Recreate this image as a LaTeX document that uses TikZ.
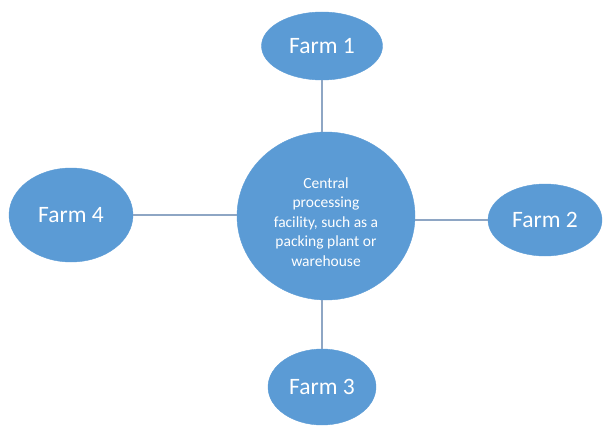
\documentclass[tikz,border=0pt]{standalone}
\usepackage{fontspec}
\setmainfont{Carlito}
\usetikzlibrary{shapes.geometric}
\definecolor{farmblue}{HTML}{5B9BD5}
\definecolor{linkgray}{HTML}{8EA6C4}
\begin{document}
\begin{tikzpicture}[x=1pt,y=-1pt,
farm/.style={ellipse,fill=farmblue,draw=farmblue,text=white,inner sep=0pt,font=\fontsize{23.5}{26}\selectfont},
link/.style={draw=linkgray,line width=1.1pt}]
\useasboundingbox (0,0) rectangle (604,433);
\node[farm,minimum width=178pt,minimum height=168pt] (centre) at (326,216) {};
\node[text=white,align=center,font=\fontsize{15.5}{19.5}\selectfont] (centretext) at (326,222) {Central\\processing\\facility, such as a\\packing plant or\\warehouse};
\node[farm,minimum width=121pt,minimum height=68pt] (farm1) at (322,46) {Farm 1};
\node[farm,minimum width=114pt,minimum height=72pt] (farm2) at (545,220) {Farm 2};
\node[farm,minimum width=108pt,minimum height=76pt] (farm3) at (322,387) {Farm 3};
\node[farm,minimum width=124pt,minimum height=94pt] (farm4) at (71,215) {Farm 4};

\draw[link] (farm1.south) -- (farm1.south |- centre.north);
\draw[link] (farm2.west) -- (farm2.west -| centre.east);
\draw[link] (farm3.north) -- (farm3.north |- centre.south);
\draw[link] (farm4.east) -- (farm4.east -| centre.west);
\end{tikzpicture}
\end{document}
